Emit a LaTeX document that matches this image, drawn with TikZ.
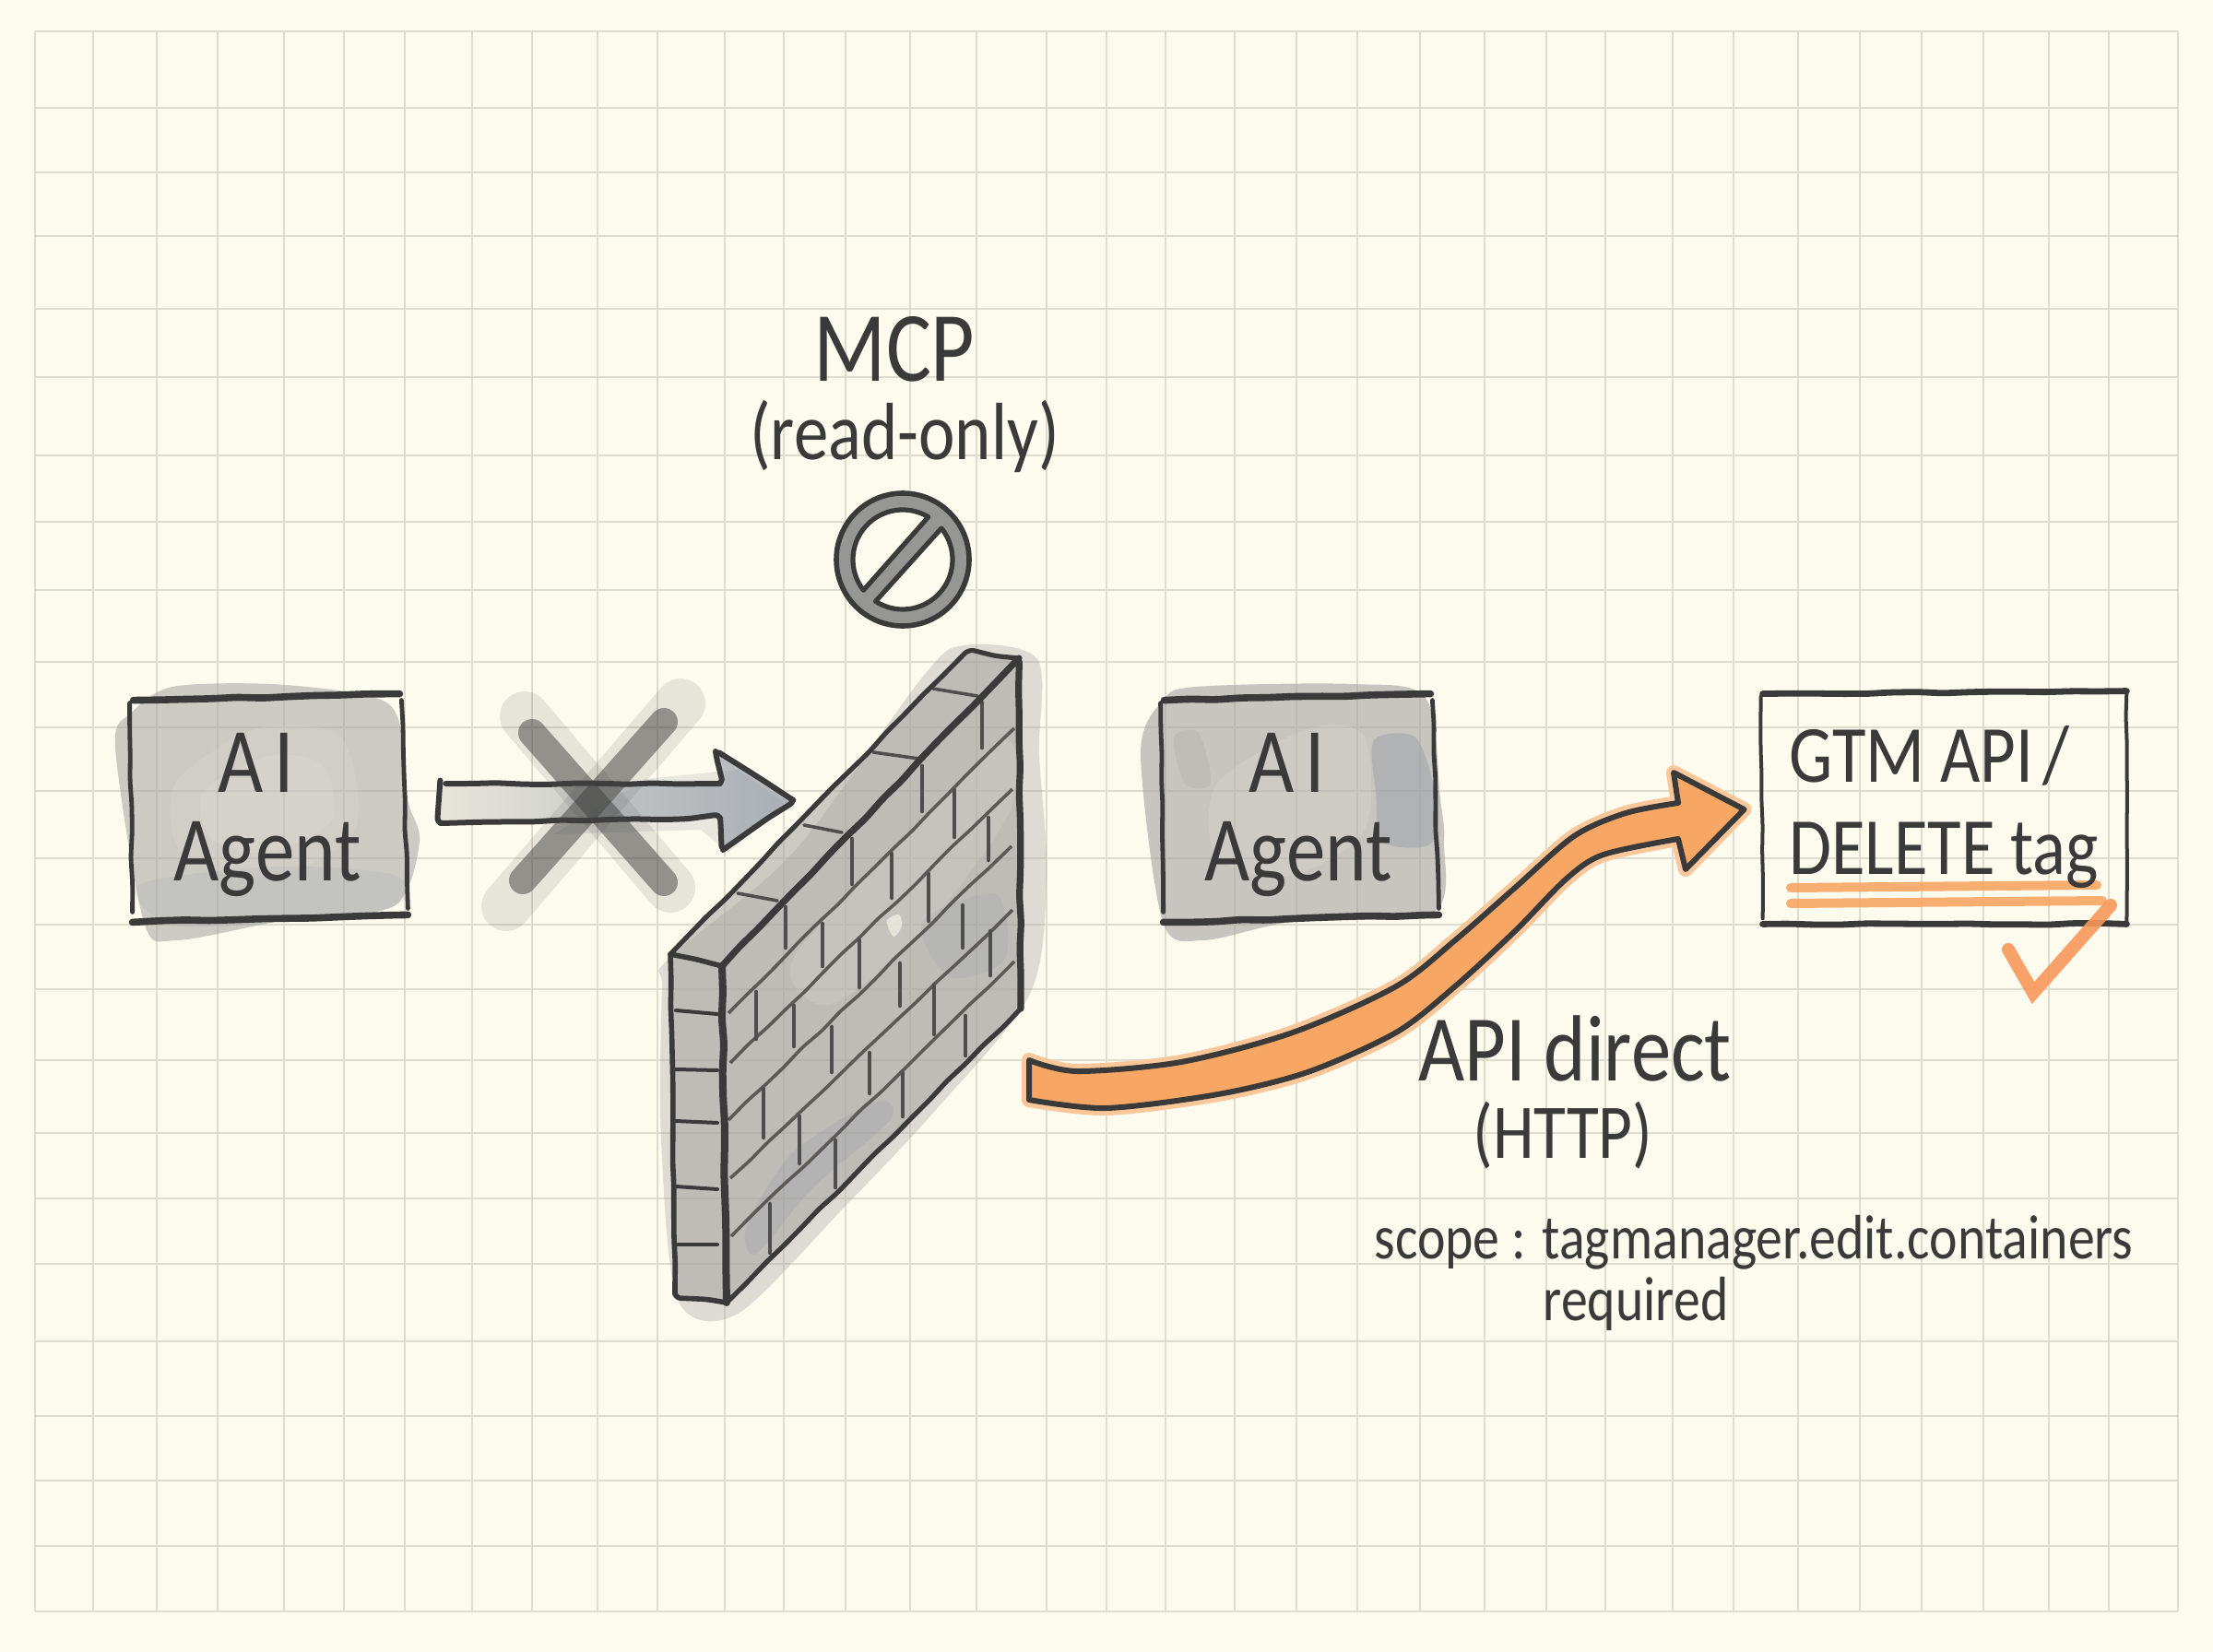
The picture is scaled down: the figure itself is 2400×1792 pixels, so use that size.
\documentclass[tikz,border=0pt]{standalone}
\usepackage{fontspec}
\setmainfont[FakeStretch=0.85]{Carlito}
\usetikzlibrary{calc,decorations.pathmorphing}
\definecolor{paper}{HTML}{FDFAEE}
\definecolor{gridline}{HTML}{DFDCCD}
\definecolor{ink}{HTML}{3A3A3A}
\definecolor{pencil}{HTML}{5C5A56}
\definecolor{wash}{HTML}{A3A3A1}
\definecolor{bluewash}{HTML}{8F97A3}
\definecolor{orangefill}{HTML}{F7A663}
\definecolor{orangewash}{HTML}{FAC79A}
\tikzset{
  rough/.style={decorate,decoration={random steps,segment length=14pt,amplitude=0.5pt},rounded corners=3pt},
  inkline/.style={draw=ink,line width=#1,line cap=round,line join=round,rough},
  inkline/.default=3pt,
  box/.style={inner sep=0pt,align=center,minimum width=149pt,minimum height=122pt,text=ink},
  label/.style={inner sep=0pt,anchor=base,text=ink},
}
\newcommand{\fs}[2]{\fontsize{#1}{#2}\selectfont}
\begin{document}
\begin{tikzpicture}[x=0.5pt,y=-0.5pt]
  \pgfmathsetseed{7}
  \useasboundingbox (0,0) rectangle (2400,1792);
  \fill[paper] (0,0) rectangle (2400,1792);
  % Grid
  \foreach \x in {38,101,170,236,308,373,439,512,577,648,713,786,850,917,987,1059,1135,1200,1264,1339,1406,1472,1540,1610,1677,1741,1814,1880,1950,2017,2084,2151,2222,2287,2362}
    \draw[gridline,line width=0.8pt] (\x,34) -- (\x,1748);
  \foreach \y in {34,117,187,256,335,409,494,566,640,718,789,858,931,1003,1073,1150,1229,1300,1371,1455,1536,1606,1677,1748}
    \draw[gridline,line width=0.8pt] (38,\y) -- (2362,\y);
  % Washes of the boxes
  \fill[wash,opacity=0.55] plot[smooth cycle] coordinates {(143,773) (187,745) (294,742) (401,755) (432,780) (442,867) (455,913) (427,983) (314,997) (192,1020) (156,1000) (125,810)};
  \fill[paper,opacity=0.1] plot[smooth cycle] coordinates {(190,850) (280,790) (370,800) (385,900) (300,950) (200,930)};
  \fill[paper,opacity=0.1] plot[smooth cycle] coordinates {(220,860) (290,820) (350,830) (360,890) (290,925) (230,910)};
  \fill[bluewash,opacity=0.12] plot[smooth cycle] coordinates {(150,960) (300,940) (430,950) (420,985) (200,1005)};
  \fill[wash,opacity=0.6] plot[smooth cycle] coordinates {(1261,760) (1297,745) (1466,742) (1546,757) (1562,867) (1566,913) (1554,990) (1401,1000) (1305,1020) (1261,1000) (1237,817)};
  \fill[paper,opacity=0.12] plot[smooth cycle] coordinates {(1320,850) (1420,790) (1480,800) (1480,900) (1400,950) (1320,930)};
  \fill[bluewash,opacity=0.4] plot[smooth cycle] coordinates {(1490,803) (1535,800) (1556,860) (1552,915) (1500,913) (1492,860)};
  \fill[wash,opacity=0.22] plot[smooth cycle] coordinates {(1273,800) (1300,795) (1313,850) (1285,850)};
  % Wash of the wall
  \fill[wash,opacity=0.35] plot[smooth cycle] coordinates {(725,1040) (860,925) (1000,735) (1045,700) (1125,715) (1127,818) (1135,950) (1117,1078) (1013,1206) (917,1308) (800,1425) (735,1410) (717,1237) (718,1073)};
  % Wall
  \coordinate (wallA) at (727,1035);
  \coordinate (wallB) at (783,1048);
  \coordinate (wallC) at (788,1413);
  \coordinate (wallD) at (732,1404);
  \coordinate (wallE) at (1047,708);
  \coordinate (wallF) at (1105,714);
  \coordinate (wallG) at (1107,1094);
  \fill[wash,opacity=0.55] (wallA) -- (wallB) -- (wallC) -- (wallD) -- cycle;
  \fill[wash,opacity=0.55] (wallA) -- (wallE) -- (wallF) -- (wallB) -- cycle;
  \fill[wash,opacity=0.55] (wallB) -- (wallF) -- (wallG) -- (wallC) -- cycle;
  \fill[paper,opacity=0.12] plot[smooth cycle] coordinates {(860,1040) (1000,890) (1090,800) (1095,880) (1000,1010) (900,1090)};
  \fill[bluewash,opacity=0.22] plot[smooth cycle] coordinates {(810,1330) (860,1250) (950,1195) (965,1215) (880,1290) (820,1360)};
  \fill[bluewash,opacity=0.15] plot[smooth cycle] coordinates {(1000,1000) (1080,970) (1090,1040) (1030,1060)};
  \fill[paper,opacity=0.6] plot[smooth cycle] coordinates {(962,998) (975,992) (978,1005) (970,1016) (965,1010)};
  % Mortar lines
  \foreach \xa/\ya/\xb/\yb in {790/1099/1100/790,792/1153/1098/856,790/1215/1097/918,792/1278/1098/987,793/1341/1100/1043}
    \draw[pencil,line width=1.8pt,rough] (\xa,\ya) -- (\xb,\yb);
  \foreach \x/\ya/\yb in {852/984/1028,924/910/959,1000/831/880,1065/762/811,
      820/1076/1127,892/1002/1048,967/926/974,1035/857/908,
      861/1091/1135,932/1020/1071,1007/948/999,1072/887/933,
      828/1181/1234,902/1114/1163,976/1045/1091,1044/982/1028,
      867/1211/1262,943/1142/1186,1013/1068/1122,1074/1010/1058,
      835/1306/1359,906/1237/1288,979/1164/1211,1047/1102/1145}
    \draw[ink!90,line width=2.3pt,line cap=round] (\x,\ya) -- (\x,\yb);
  \foreach \xa/\ya/\xb/\yb in {800/969/843/977,872/895/913/903,947/816/997/823,1012/747/1060/755}
    \draw[ink!90,line width=1.8pt,line cap=round] (\xa,\ya) -- (\xb,\yb);
  \foreach \y/\yy in {1096/1100,1160/1161,1216/1218,1287/1290,1350/1350}
    \draw[ink,line width=2pt,line cap=round] (733,\y) -- (778,\yy);
  % Outline
  \draw[inkline=2.8pt] (wallA) -- (wallB) (wallA) -- (wallD) -- (wallC);
  \draw[inkline=2.6pt] (wallA) -- (wallE) -- (wallF) (wallG) -- (wallC);
  \draw[inkline=3.6pt] (wallB) -- (wallF) -- (wallG);
  \draw[inkline=4pt] (wallB) -- (wallC);
  % Boxes
  \node[box,font=\fs{50}{48}] (agentA) at (290,875) {\rule{0pt}{41pt}A\kern6pt I\kern12pt\\Agent};
  \node[box,font=\fs{50}{48}] (agentB) at (1408,875) {\rule{0pt}{41pt}A\kern6pt I\kern12pt\\Agent};
  \foreach \n in {agentA,agentB} {
    \draw[inkline=2.4pt] ($(\n.north west)+(0,10)$) -- ($(\n.south west)+(3,-8)$);
    \draw[inkline=2.4pt] ($(\n.north east)+(-4,7)$) -- ($(\n.south east)+(3,-12)$);
    \draw[inkline=3.8pt] ($(\n.north west)+(4,7)$) -- ($(\n.north east)+(-6,0)$);
    \draw[inkline=3.8pt] ($(\n.south west)+(3,3)$) -- ($(\n.south east)+(3,-5)$);
  }
  % Blocked arrow
  \coordinate (blockTail) at ($(agentA.east)+(38,-4)$);
  \coordinate (blockTip) at ($(agentA.east)+(421,-7)$);
  \path[left color=wash!25!paper,right color=bluewash!70!paper]
    ($(blockTail)+(0,-21)$) -- (781,850) -- (776,815) -- (blockTip) -- (784,922) -- (781,887) -- ($(blockTail)+(0,22)$) -- cycle;
  \fill[bluewash,opacity=0.2] (700,845) -- (800,835) -- (850,870) -- (790,925) -- (760,900) -- (600,905) -- cycle;
  \draw[inkline=3pt] ($(blockTail)+(0,-21)$) -- (781,850) -- (776,815) -- (blockTip) -- (784,922) -- (781,887) -- ($(blockTail)+(0,22)$) -- cycle;
  % Cross
  \draw[black!70,opacity=0.12,line width=27pt,line cap=round] (569,777) -- (727,963);
  \draw[black!70,opacity=0.12,line width=27pt,line cap=round] (738,763) -- (549,983);
  \draw[black!75,opacity=0.5,line width=15pt,line cap=round] (577,795) -- (720,957);
  \draw[black!75,opacity=0.5,line width=15pt,line cap=round] (720,783) -- (567,955);
  % Forbidden sign
  \coordinate (forbid) at (979,607);
  \fill[wash!92!black] (forbid) circle[radius=36pt];
  \draw[draw=ink,line width=2.8pt] (forbid) circle[radius=36pt];
  \filldraw[fill=paper,draw=ink,line width=2.6pt,line join=round] (forbid) ++(59:27pt) arc[start angle=59,end angle=218,radius=27pt] -- cycle;
  \filldraw[fill=paper,draw=ink,line width=2.6pt,line join=round] (forbid) ++(237:27pt) arc[start angle=237,end angle=399,radius=27pt] -- cycle;
  % Underlines
  \draw[orangefill,line width=5pt,line cap=round,opacity=0.9] (1942,963) -- (2274,960);
  \draw[orangefill,line width=5pt,line cap=round,opacity=0.9] (1942,980) -- (2280,977);
  % Target box
  \node[box,minimum width=198pt,minimum height=126pt,font=\fs{44}{50},align=left] (target) at (2108,876) {GTM API\kern5pt/\\DELETE tag};
  \draw[inkline=2pt] ($(target.north west)+(0,6)$) -- ($(target.south west)+(2,-6)$);
  \draw[inkline=2pt] ($(target.north east)+(0,0)$) -- (target.south east);
  \draw[inkline=3.4pt] ($(target.north west)+(2,3)$) -- (target.north east);
  \draw[inkline=3.4pt] ($(target.south west)+(2,0)$) -- (target.south east);
  % Check
  \draw[orangefill!92!red,line width=7pt,line cap=round,line join=miter,opacity=0.9] (2178,1030) -- (2205,1077) -- (2289,982);
  % API arrow
  \coordinate (apiTip) at ($(target.west)+(-18,2)$);
  \def\apiOutline{plot[smooth] coordinates {(1116,1150) (1168,1162) (1281,1152) (1402,1120) (1514,1070) (1578,1020) (1643,963) (1707,907) (1763,882) (1820,871)} -- (1815,838) -- (apiTip) -- (1828,943) -- plot[smooth] coordinates {(1820,910) (1739,927) (1699,953) (1643,1010) (1578,1070) (1514,1120) (1418,1163) (1321,1187) (1200,1202) (1116,1193)} -- cycle}
  \draw[orangewash,fill=orangewash,line width=8pt,line join=round] \apiOutline;
  \fill[orangefill] \apiOutline;
  \draw[ink,line width=3pt,line join=round] \apiOutline;
  % Labels
  \node[label,font=\fs{54}{54}] (mcpLabel) at (970,414) {MCP};
  \node[label,font=\fs{44}{44}] (readOnly) at (981,499) {(read-only)};
  \node[label,font=\fs{51}{51}] (apiLabel) at (1708,1172) {API direct};
  \node[label,font=\fs{42}{42}] (httpLabel) at (1695,1256) {(HTTP)};
  \node[label,font=\fs{34}{34}] (scopeLabel) at (1902,1365) {scope : tagmanager.edit.containers};
  \node[label,font=\fs{34}{34}] (requiredLabel) at (1774,1432) {required};
\end{tikzpicture}
\end{document}
